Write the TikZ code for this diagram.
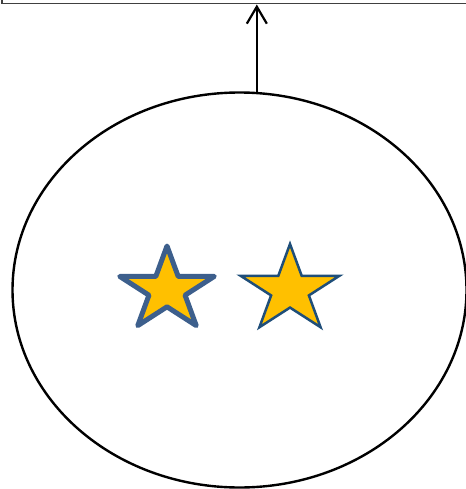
\documentclass[tikz,border=0pt]{standalone}
\usepackage{xcolor}
\usepackage{tikz}
\usetikzlibrary{arrows.meta,shapes.geometric}
\definecolor{StarFill}{RGB}{255,192,0}
\definecolor{StarEdgeA}{RGB}{61,95,140}
\definecolor{StarEdgeB}{RGB}{31,78,121}
\definecolor{PanelEdge}{RGB}{64,64,64}

\begin{document}
\begin{tikzpicture}[
  x=1pt,
  y=-1pt,
  panel/.style={
    rectangle,
    draw=PanelEdge,
    line width=1.8pt,
    inner sep=0pt
  },
  blob/.style={
    ellipse,
    draw=black,
    line width=2.4pt,
    inner sep=0pt,
    minimum width=454pt,
    minimum height=395pt
  },
  starA/.style={
    star,
    star points=5,
    star point ratio=2.618,
    draw=StarEdgeA,
    fill=StarFill,
    line width=5pt,
    line join=round,
    inner sep=0pt,
    minimum size=88pt,
    xscale=1.13,
    transform shape
  },
  starB/.style={
    star,
    star points=5,
    star point ratio=2.618,
    draw=StarEdgeB,
    fill=StarFill,
    line width=2.5pt,
    inner sep=0pt,
    minimum size=92pt,
    xscale=1.13,
    transform shape
  },
  arrow/.style={-{Straight Barb[length=17pt,width=20pt,line width=2.2pt]}, line width=2.2pt}
]
\useasboundingbox (0,0) rectangle (465,489);

% top panel, cut off by the page
\node[panel, minimum width=490pt, minimum height=60pt, anchor=south west] (panel) at (1,4.5) {};

% container with the two stars
\node[blob] (blob) at (239.5,290) {};
\begin{scope}[shift={(167,290)}]
  \node[starA] (left) at (0,0) {};
\end{scope}
\begin{scope}[shift={(290,290)}]
  \node[starB] (right) at (0,0) {};
\end{scope}

\draw[arrow] (blob.85) -- (blob.85 |- panel.south);
\end{tikzpicture}
\end{document}
